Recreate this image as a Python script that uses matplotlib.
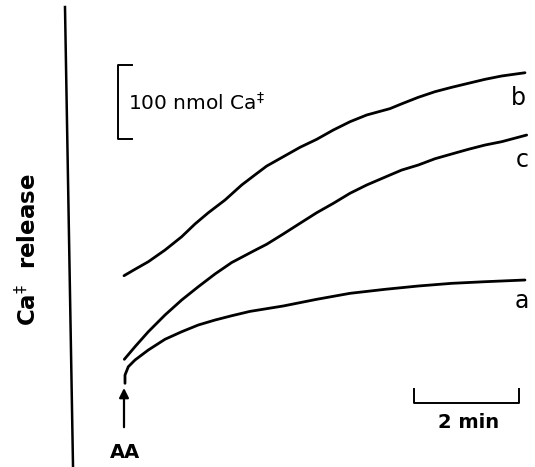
import matplotlib
matplotlib.use("Agg")
import matplotlib.pyplot as plt

# time after AA addition (min) and Ca++ release (nmol, relative to start of trace a)
t_a = [0.019, 0.019, 0.082, 0.210, 0.463, 0.781, 1.099, 1.415, 1.733, 2.051, 2.400,
       3.034, 3.670, 4.305, 4.971, 5.606, 6.242, 6.876, 7.638]
v_a = [2.3, 13.5, 24.7, 33.8, 47.3, 61.8, 72.0, 81.1, 87.8, 93.6, 99.5,
       106.8, 115.8, 123.9, 129.3, 133.8, 137.4, 139.6, 141.9]

t_b = [0.0, 0.210, 0.463, 0.781, 1.099, 1.352, 1.606, 1.924, 2.242, 2.495, 2.718,
       3.034, 3.352, 3.670, 3.987, 4.305, 4.623, 5.067, 5.290, 5.606, 5.924,
       6.242, 6.558, 6.876, 7.194, 7.638]
v_b = [147.7, 156.4, 166.6, 182.4, 200.4, 217.6, 232.8, 250.0, 270.3, 284.0, 295.9,
       308.5, 321.2, 332.0, 344.6, 355.8, 364.9, 373.5, 380.0, 388.8, 396.4,
       402.3, 407.7, 413.1, 417.6, 422.0]

t_c = [0.006, 0.210, 0.463, 0.781, 1.099, 1.415, 1.733, 2.051, 2.495, 2.718,
       3.034, 3.352, 3.670, 3.987, 4.305, 4.623, 5.067, 5.290, 5.606, 5.924,
       6.242, 6.558, 6.876, 7.194, 7.670]
v_c = [34.7, 51.8, 72.0, 94.6, 114.9, 132.8, 150.0, 165.5, 182.1, 190.2,
       204.1, 218.5, 232.8, 245.5, 259.1, 270.3, 283.8, 290.5, 297.3, 305.8,
       312.2, 318.5, 324.3, 328.8, 337.8]

labels = ["a", "b", "c"]
scale_time = "2 min"
scale_amount = "100 nmol Ca$^{\\ddagger}$"
ylabel = "Ca$^{\\ddagger}$  release"
agent = "AA"

plt.rcParams['font.family'] = ['DejaVu Sans']

fig = plt.figure(figsize=(5.35, 4.67), dpi=100)
ax = fig.add_axes([0, 0, 1, 1])
ax.set_xlim(-2.362, 7.829)
ax.set_ylim(-110.8, 520.3)
ax.axis('off')

lw = 2.0
for t, v in ((t_a, v_a), (t_b, v_b), (t_c, v_c)):
    ax.plot(t, v, color='black', lw=lw, solid_capstyle='round',
            solid_joinstyle='round')

# curve labels
ax.text(7.58, 104.1, labels[0], fontsize=17, ha='center', va='baseline')
ax.text(7.51, 378.4, labels[1], fontsize=17, ha='center', va='baseline')
ax.text(7.58, 294.6, labels[2], fontsize=17, ha='center', va='baseline')

# vertical axis line (slightly tilted, as in the original trace)
ax.plot([-1.124, -0.971], [510.8, -110.8], color='black', lw=1.8)

# y label
ax.text(0.052, 0.465, ylabel, transform=ax.transAxes,
        rotation=90, fontsize=16.5, fontweight='bold', ha='center', va='center')

# 100 nmol scale bar
ax.plot([0.152, -0.114, -0.114, 0.152], [432.4, 432.4, 332.4, 332.4],
        color='black', lw=1.4)
ax.text(0.07, 381, scale_amount, fontsize=14.5, ha='left', va='center')

# 2 min scale bar
ax.plot([5.524, 5.524, 7.524, 7.524], [-5.4, -24.3, -24.3, -5.4], color='black', lw=1.4)
ax.text(6.57, -58.1, scale_time, fontsize=14, fontweight='bold', ha='center', va='baseline')

# AA arrow
ax.annotate("", xy=(0.0, -4), xytext=(0.0, -57),
            arrowprops=dict(arrowstyle='-|>', color='black', lw=1.6,
                            mutation_scale=14, shrinkA=0, shrinkB=0))
ax.text(0.02, -98.6, agent, fontsize=14, fontweight='bold', ha='center', va='baseline')

fig.savefig("out.png", dpi=100)
